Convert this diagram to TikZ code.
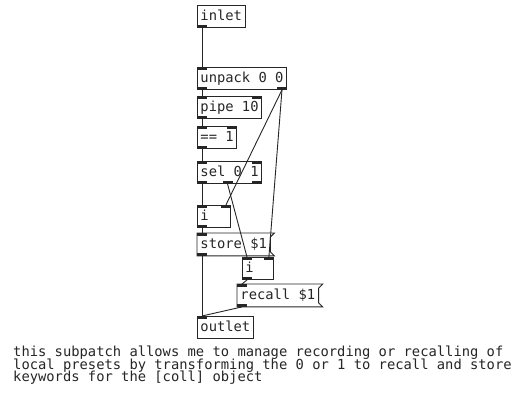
\documentclass[tikz,border=0pt]{standalone}
\usepackage{fontspec}
\setmonofont{DejaVu Sans Mono}
\usetikzlibrary{positioning}
\newcommand{\tightlines}{\lineskiplimit=-100pt\relax\lineskip=0pt\relax}
\tikzset{
	obj/.style={draw=black!85, line width=0.9pt, anchor=north west, inner xsep=3pt, inner ysep=0pt, text height=11pt, text depth=3pt, minimum height=22pt, font=\ttfamily\fontsize{13.8}{14}\selectfont, text=black!85},
	msg/.style={obj, draw=none},
	wire/.style={draw=black!85, line width=0.9pt},
	iolet/.style={fill=black!85}
}

\begin{document}
\begin{tikzpicture}[x=1pt, y=1pt,
		note/.style={anchor=north west, align=left, inner sep=0pt, font=\ttfamily\fontsize{13.8}{12.5}\selectfont\tightlines, text=black!85}
		]
		\useasboundingbox[fill=white] (0,0) rectangle (526,-395);
		
		% objects of the patch
		\node[obj] (inlet) at (197,-5) {inlet};
		\node[obj] (unpack) at (197,-67) {unpack 0 0};
		\node[obj] (pipe) at (197,-96) {pipe 10};
		\node[obj] (eq) at (197,-126) {== 1};
		\node[obj] (sel) at (197,-161) {sel 0 1};
		\node[obj, text width=27pt] (ione) at (197,-205) {i};
		\node[msg] (store) at (197,-233) {store \$1};
		\node[obj, text width=25pt] (itwo) at (242,-257) {i};
		\node[msg] (recall) at (237,-284) {recall \$1};
		\node[obj] (outlet) at (197,-316) {outlet};
		
		% message box outlines
		\foreach \m in {store, recall}
		\draw[wire] (\m.north west) -- ([xshift=4pt]\m.north east) -- ([yshift=-4pt]\m.north east)
		-- ([yshift=4pt]\m.south east) -- ([xshift=4pt]\m.south east) -- (\m.south west) -- cycle;
		
		% inlets and outlets
		\foreach \o in {inlet, unpack, pipe, eq, sel, ione, store, itwo, recall}
		\fill[iolet] (\o.south west) rectangle ++(10,3);
		\foreach \o in {unpack, pipe, eq, sel, ione, store, itwo, recall, outlet}
		\fill[iolet] (\o.north west) rectangle ++(10,-3);
		\foreach \o in {pipe, eq, sel, ione, itwo}
		\fill[iolet] (\o.north east) rectangle ++(-10,-3);
		\foreach \o in {unpack, sel}
		\fill[iolet] (\o.south east) rectangle ++(-10,3);
		\fill[iolet] ([xshift=-7pt]sel.south) rectangle ++(10,3);
		
		% connections
		\draw[wire] ([xshift=5pt]inlet.south west) -- ([xshift=5pt]unpack.north west);
		\draw[wire] ([xshift=5pt]unpack.south west) -- ([xshift=5pt]pipe.north west);
		\draw[wire] ([xshift=5pt]pipe.south west) -- ([xshift=5pt]eq.north west);
		\draw[wire] ([xshift=5pt]eq.south west) -- ([xshift=5pt]sel.north west);
		\draw[wire] ([xshift=5pt]sel.south west) -- ([xshift=5pt]ione.north west);
		\draw[wire] ([xshift=-2pt]sel.south) -- ([xshift=5pt]itwo.north west);
		\draw[wire] ([xshift=-5pt]unpack.south east) -- ([xshift=-5pt]ione.north east);
		\draw[wire] ([xshift=-5pt]unpack.south east) -- ([xshift=-5pt]itwo.north east);
		\draw[wire] ([xshift=5pt]ione.south west) -- ([xshift=5pt]store.north west);
		\draw[wire] ([xshift=5pt]store.south west) -- ([xshift=5pt]outlet.north west);
		\draw[wire] ([xshift=5pt]itwo.south west) -- ([xshift=5pt]recall.north west);
		\draw[wire] ([xshift=5pt]recall.south west) -- ([xshift=5pt]outlet.north west);
		
		% comment
		\node[note] (comment) at (13,-346) {this subpatch allows me to manage recording or recalling of\\local presets by transforming the 0 or 1 to recall and store\\keywords for the [coll] object};
		
	\end{tikzpicture}
\end{document}
